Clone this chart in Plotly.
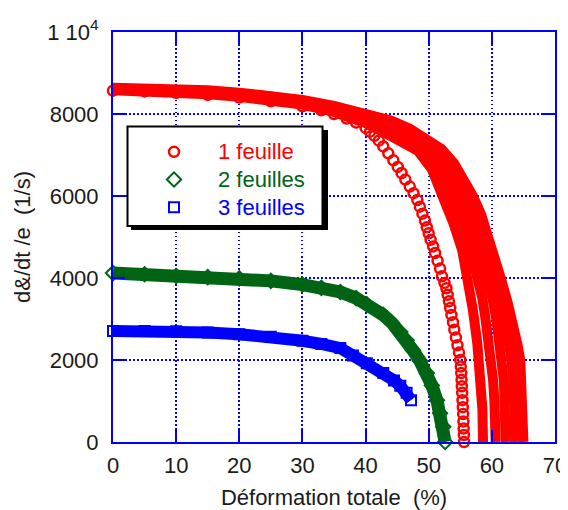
import plotly.graph_objects as go

FONT = "Liberation Sans"
RED = "#ff0000"
GREEN = "#006414"
BLUE = "#0000ff"
INK = "#1a1a1a"

# ---- data: "1 feuille" (several recorded curves) ----
c1_x = [0, 5, 10, 15, 20, 25, 30, 33, 35, 37, 38.5,
        40, 40.7, 41.4, 42.1, 42.8, 43.6, 44.4, 45.1,
        45.7, 46.3, 47.0, 47.6, 48.2,
        48.6, 49.0, 49.4, 49.7,
        50.0, 50.3, 50.7, 51.0,
        51.4, 51.8, 52.1, 52.5, 52.8,
        53.0, 53.2, 53.4, 53.6,
        53.85, 54.05, 54.3,
        54.55, 54.8, 55.0,
        55.08, 55.15, 55.2, 55.25, 55.3,
        55.35, 55.4, 55.45, 55.5,
        55.53, 55.57, 55.6]
c1_y = [8570, 8550, 8515, 8465, 8400, 8310, 8190, 8090, 8000, 7890, 7790,
        7660, 7570, 7470, 7350, 7210, 7040, 6870, 6710,
        6560, 6400, 6230, 6070, 5900,
        5740, 5570, 5400, 5240,
        5090, 4930, 4770, 4610,
        4420, 4230, 4040, 3880, 3750,
        3590, 3430, 3270, 3100,
        2920, 2740, 2550,
        2360, 2180, 2000,
        1840, 1680, 1520, 1360, 1200,
        1020, 850, 680, 500,
        330, 170, 0]

c2_x = [0, 5, 10, 15, 20, 25, 30, 35, 40, 44, 48.3, 50.5, 52.3, 54.0, 55.3, 56.2, 57.0, 57.7, 58.2, 58.5, 58.6]
c2_y = [8580, 8560, 8530, 8480, 8420, 8340, 8230, 8050, 7780, 7460, 7100, 6650, 5980, 5300, 4680, 3950, 3220, 2400, 1600, 800, 0]

c3_x = [0, 5, 10, 15, 20, 25, 30, 35, 40, 44, 48, 50.1, 52.0, 53.7, 55.0, 56.1, 57.0, 57.8, 58.5, 59.0, 59.5, 59.9, 60.2, 60.4, 60.6]
c3_y = [8600, 8580, 8555, 8510, 8450, 8370, 8260, 8100, 7850, 7590, 7290, 7000, 6500, 6000, 5500, 5000, 4500, 4000, 3500, 3000, 2500, 2000, 1500, 1000, 0]

c4_x = [0, 5, 10, 15, 20, 25, 30, 35, 40, 44, 48, 51.1, 53.2, 55.0, 56.3, 57.3, 58.4, 59.3, 60.1, 60.7, 61.2, 61.6, 61.9, 62.0, 62.2]
c4_y = [8615, 8595, 8575, 8530, 8475, 8400, 8290, 8130, 7915, 7680, 7390, 7000, 6500, 6000, 5500, 5000, 4500, 4000, 3500, 3000, 2500, 2000, 1500, 1000, 0]

c5_x = [0, 5, 10, 15, 20, 25, 30, 35, 40, 44, 48, 52.1, 54.3, 56.1, 57.4, 58.5, 59.6, 60.6, 61.4, 62.1, 62.7, 63.1, 63.4, 63.5, 63.7]
c5_y = [8630, 8610, 8595, 8555, 8500, 8425, 8320, 8170, 7980, 7770, 7480, 7000, 6500, 6000, 5500, 5000, 4500, 4000, 3500, 3000, 2500, 2000, 1500, 1000, 0]

c6_x = [0, 5, 10, 15, 20, 25, 30, 35, 40, 44, 47, 50, 52, 54, 55.5, 57, 58.3, 59.5, 60.6, 61.6, 62.5, 63.4, 64.1, 64.5, 64.8, 65.0]
c6_y = [8640, 8630, 8610, 8580, 8520, 8440, 8340, 8200, 8030, 7840, 7640, 7380, 7150, 6800, 6450, 6000, 5550, 5000, 4450, 3900, 3400, 2900, 2350, 2000, 1100, 0]

# ---- data: "2 feuilles" ----
g_x = [0, 5, 10, 15, 20, 25, 30, 33, 36, 38.5, 40.2, 42.8, 44.2, 45.5, 46.5, 47.5, 48.6, 49.7, 50.5, 51.3, 51.8, 52.3, 52.6]
g_y = [4120, 4090, 4050, 4020, 3990, 3930, 3840, 3760, 3660, 3510, 3360, 3100, 2900, 2680, 2480, 2240, 1980, 1680, 1380, 1020, 700, 370, 0]

# ---- data: "3 feuilles" ----
b_x = [0, 5, 10, 15, 20, 25, 30, 33, 36, 38, 40.2, 42.8, 44.5, 45.5, 46.5, 47.2]
b_y = [2710, 2710, 2700, 2670, 2630, 2570, 2470, 2390, 2290, 2110, 1920, 1680, 1500, 1370, 1200, 1020]

x_ticks = [0, 10, 20, 30, 40, 50, 60, 70]
y_ticks = [0, 2000, 4000, 6000, 8000, 10000]
y_ticktext = ["0", "2000", "4000", "6000", "8000", "1 10<sup>4</sup>"]

names = ["1 feuille", "2 feuilles", "3 feuilles"]

fig = go.Figure()

# red band curves
for cx, cy in [(c2_x, c2_y), (c3_x, c3_y), (c4_x, c4_y), (c5_x, c5_y), (c6_x, c6_y)]:
    fig.add_trace(go.Scatter(x=cx, y=cy, mode="lines",
                             line=dict(color=RED, width=10),
                             showlegend=False, hoverinfo="skip"))

fig.add_trace(go.Scatter(
    x=c1_x, y=c1_y, mode="markers", cliponaxis=False,
    marker=dict(symbol="circle-open", size=10, color=RED, line=dict(width=2.5)),
    name='<span style="color:%s;font-size:22px">%s</span>' % (RED, names[0])))

fig.add_trace(go.Scatter(x=g_x, y=g_y, mode="lines", line=dict(color=GREEN, width=13),
                         showlegend=False, hoverinfo="skip"))
fig.add_trace(go.Scatter(
    x=g_x, y=g_y, mode="markers", cliponaxis=False,
    marker=dict(symbol="diamond-open", size=11, color=GREEN, line=dict(width=2)),
    name='<span style="color:%s;font-size:22px">%s</span>' % (GREEN, names[1])))

fig.add_trace(go.Scatter(x=b_x, y=b_y, mode="lines", line=dict(color=BLUE, width=12),
                         showlegend=False, hoverinfo="skip"))
fig.add_trace(go.Scatter(
    x=b_x, y=b_y, mode="markers", cliponaxis=False,
    marker=dict(symbol="square-open", size=10, color=BLUE, line=dict(width=2)),
    name='<span style="color:%s;font-size:22px">%s</span>' % (BLUE, names[2])))

axis_common = dict(
    ticks="inside", ticklen=12, tickwidth=2, tickcolor=BLUE,
    showline=True, linecolor=BLUE, linewidth=2, mirror="ticks",
    showgrid=True, gridcolor=BLUE, gridwidth=1.5, griddash="1.5px,2.5px",
    zeroline=False, tickfont=dict(family=FONT, size=22, color=INK),
)

fig.update_xaxes(range=[0, 70], tickvals=x_ticks, ticklabelstandoff=3,
                 title=dict(text="Déformation totale\u00a0 (%)", standoff=14,
                            font=dict(family=FONT, size=22, color=INK)),
                 **axis_common)
fig.update_yaxes(range=[0, 10000], tickvals=y_ticks, ticktext=y_ticktext,
                 ticklabelstandoff=8,
                 title=dict(text="d&/dt /e\u00a0 (1/s)", standoff=11,
                            font=dict(family=FONT, size=22, color=INK)),
                 **axis_common)

# the page body has an 8px default margin, so the figure is offset by 8px
OFF = 8
W, H = 568 - OFF, 510 - OFF
PW, PH = 442, 410
ML, MT = 113 - OFF, 32 - OFF
MR = W - ML - PW
MB = H - MT - PH

def px(xp):
    return (xp - OFF - ML) / PW

def py(yp):
    return (MT + PH - (yp - OFF)) / PH

shapes = [
    dict(type="rect", xref="paper", yref="paper", layer="above",
         x0=px(131), x1=px(328), y0=py(230), y1=py(130),
         fillcolor="black", line=dict(width=0)),
    dict(type="rect", xref="paper", yref="paper", layer="above",
         x0=px(127.5), x1=px(322.5), y0=py(226), y1=py(126.5),
         fillcolor="white", line=dict(color="black", width=2)),
]

fig.update_layout(
    width=W, height=H,
    margin=dict(l=ML, r=MR, t=MT, b=MB, autoexpand=False),
    paper_bgcolor="white", plot_bgcolor="white",
    font=dict(family=FONT, size=22, color=INK),
    shapes=shapes,
    legend=dict(x=px(130), y=py(133), xanchor="left", yanchor="top",
                bgcolor="rgba(0,0,0,0)", borderwidth=0,
                font=dict(family=FONT, size=19, color=INK),
                itemwidth=78, traceorder="normal"),
)

fig.write_html("out.html")
